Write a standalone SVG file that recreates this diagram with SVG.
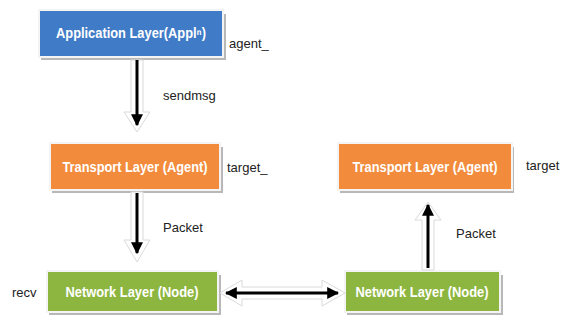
<svg xmlns="http://www.w3.org/2000/svg" width="565" height="320" viewBox="0 0 565 320">
<style>
.box{stroke:#f4f4f4;stroke-width:2}
.shadow{fill:#b8b8b8}
.lbl{font-family:"Liberation Sans",Arial,sans-serif;font-weight:bold;font-size:14px;fill:#ffffff;text-anchor:middle}
.txt{font-family:"Liberation Sans",Arial,sans-serif;font-size:13px;fill:#222222}
.conn{stroke:#000;stroke-width:3;fill:none}
.ghost{fill:#ffffff;stroke:#dadada;stroke-width:1}
</style>
<defs>
<marker id="ah" viewBox="0 0 10 10" refX="9" refY="5" markerWidth="4" markerHeight="4" orient="auto-start-reverse" markerUnits="strokeWidth">
<path d="M0,0 L10,5 L0,10 z" fill="#000"/>
</marker>
</defs>
<rect width="565" height="320" fill="#ffffff"/>
<g id="app">
<rect class="shadow" x="41" y="14" width="185" height="46"/>
<rect class="box" x="39" y="10" width="184" height="47" fill="#3F7BC6"/>
<text class="lbl" x="131" y="38" textLength="150" lengthAdjust="spacingAndGlyphs">Application Layer(Applⁿ)</text>
</g>
<g id="transport-left">
<rect class="shadow" x="52" y="147" width="171" height="46"/>
<rect class="box" x="50" y="143" width="170" height="47" fill="#F28B3C"/>
<text class="lbl" x="135" y="172" textLength="145" lengthAdjust="spacingAndGlyphs">Transport Layer (Agent)</text>
</g>
<g id="transport-right">
<rect class="shadow" x="340" y="147" width="174" height="46"/>
<rect class="box" x="338" y="143" width="174" height="47" fill="#F28B3C"/>
<text class="lbl" x="425" y="172" textLength="145" lengthAdjust="spacingAndGlyphs">Transport Layer (Agent)</text>
</g>
<g id="network-left">
<rect class="shadow" x="49" y="275" width="172" height="40"/>
<rect class="box" x="47" y="271" width="171" height="41" fill="#8DB640"/>
<text class="lbl" x="132" y="297" textLength="133" lengthAdjust="spacingAndGlyphs">Network Layer (Node)</text>
</g>
<g id="network-right">
<rect class="shadow" x="347" y="275" width="156" height="40"/>
<rect class="box" x="345" y="271" width="155" height="41" fill="#8DB640"/>
<text class="lbl" x="422" y="297" textLength="133" lengthAdjust="spacingAndGlyphs">Network Layer (Node)</text>
</g>
<g id="connectors">
<polygon class="ghost" points="131,60 143,60 143,112 150,112 137,132 124,112 131,112"/>
<polygon class="ghost" points="131,192 143,192 143,240 150,240 137,262 124,240 131,240"/>
<polygon class="ghost" points="422,270 434,270 434,220 441,220 428,202 415,220 422,220"/>
<polygon class="ghost" points="220,293 242,280 242,287 322,287 322,280 345,293 322,306 322,299 242,299 242,306"/>
<line class="conn" x1="137" y1="60" x2="137" y2="125" marker-end="url(#ah)"/>
<line class="conn" x1="137" y1="193" x2="137" y2="253" marker-end="url(#ah)"/>
<line class="conn" x1="428" y1="268" x2="428" y2="205" marker-end="url(#ah)"/>
<line class="conn" x1="226" y1="293" x2="338" y2="293" marker-start="url(#ah)" marker-end="url(#ah)"/>
</g>
<g id="labels">
<text class="txt" x="229" y="48">agent_</text>
<text class="txt" x="163" y="100">sendmsg</text>
<text class="txt" x="227" y="172">target_</text>
<text class="txt" x="163" y="232">Packet</text>
<text class="txt" x="12" y="297">recv</text>
<text class="txt" x="456" y="238">Packet</text>
<text class="txt" x="526" y="170">target</text>
</g>
</svg>
